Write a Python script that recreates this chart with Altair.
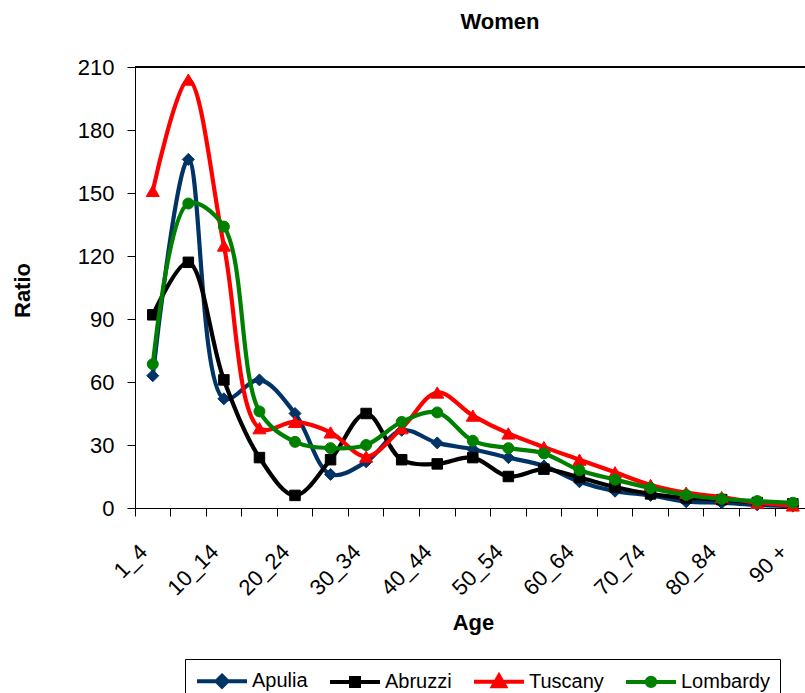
import json
import altair as alt
import pandas as pd

ages = ["1_4", "5_9", "10_14", "15_19", "20_24", "25_29", "30_34", "35_39", "40_44",
        "45_49", "50_54", "55_59", "60_64", "65_69", "70_74", "75_79", "80_84", "85_89", "90 +"]
shown_labels = ["1_4", "10_14", "20_24", "30_34", "40_44", "50_54", "60_64", "70_74", "80_84", "90 +"]

apulia = [63, 166, 52, 61, 45, 16, 22, 37, 31, 28, 24, 20, 12.5, 8, 6, 3, 2.5, 1.5, 1]
abruzzi = [92, 117, 61, 24, 6, 23, 45, 23, 21, 24, 15, 18.5, 14.5, 10, 6.7, 4.8, 4, 2.6, 2]
tuscany = [151, 204, 125, 38, 41, 36, 24.5, 38, 55, 44, 35.5, 29, 23, 17, 11, 7.3, 5.2, 2.5, 1.2]
lombardy = [68.5, 145, 134, 46, 31.5, 28.5, 30, 41, 45.5, 32, 28.5, 26, 18, 13.5, 9.5, 6.2, 4.3, 3.3, 2.5]

series_names = ["Apulia", "Abruzzi", "Tuscany", "Lombardy"]
series_values = [apulia, abruzzi, tuscany, lombardy]
colors = ["#003366", "#000000", "#FF0000", "#008000"]
markers = ["diamond", "square", "triangle-up", "circle"]
marker_sizes = [144, 110, 169, 121]
# legend symbols: a line with the series marker in its middle (unit = half of sqrt(size))
legend_paths = [
    "M-1,0H4M1.5,-0.55L2.05,0L1.5,0.55L0.95,0Z",
    "M-1,0H4M1.1,-0.4H1.9V0.4H1.1Z",
    "M-1,0H4M1.5,-0.6L2.1,0.45H0.9Z",
    "M-1,0H4M1.08,0A0.42,0.42 0 1,0 1.92,0A0.42,0.42 0 1,0 1.08,0Z",
]

rows = []
for name, vals in zip(series_names, series_values):
    for a, v in zip(ages, vals):
        rows.append({"age": a, "ratio": v, "series": name})
df = pd.DataFrame(rows)

FONT = "Liberation Sans"
PLOT_W = 670
BAND_RANGE = 675.6
PLOT_H = 441

label_expr = "indexof(" + json.dumps(shown_labels) + ", datum.value) >= 0 ? datum.value : ''"

x_enc = alt.X(
    "age:N",
    sort=ages,
    scale=alt.Scale(type="band", domain=ages, range=[0, BAND_RANGE], paddingInner=0, paddingOuter=0),
    axis=alt.Axis(
        title="Age",
        titleFontSize=22, titleFontWeight="bold", titleColor="black",
        titleX=338, titleY=114, titleBaseline="middle", titleAlign="center",
        bandPosition=0,
        labelExpr=label_expr,
        labelAngle=315, labelAlign="right", labelBaseline="middle",
        labelFontSize=22, labelColor="black",
        labelPadding=32, labelOffset=-9,
        labelOverlap=False, labelFlush=False,
        tickSize=8, tickColor="black", tickWidth=1,
        domainColor="black", domainWidth=1,
        grid=False,
    ),
)

y_enc = alt.Y(
    "ratio:Q",
    scale=alt.Scale(domain=[0, 210], nice=False, zero=True),
    axis=alt.Axis(
        title="Ratio",
        values=[0, 30, 60, 90, 120, 150, 180, 210],
        titleFontSize=22, titleFontWeight="bold", titleColor="black",
        titleX=-113, titleY=223, titleAngle=270, titleBaseline="middle", titleAlign="center",
        labelFontSize=22, labelColor="black", labelPadding=13,
        tickSize=8, tickColor="black", tickWidth=1,
        domainColor="black", domainWidth=1,
        grid=False,
    ),
)

base = alt.Chart(df)

layers = [
    base.mark_rule(color="black", strokeWidth=1).encode(y=alt.datum(210))
]
for name, col, mk, sz in zip(series_names, colors, markers, marker_sizes):
    sub = base.transform_filter(alt.datum.series == name)
    layers.append(sub.mark_line(color=col, strokeWidth=4.2, interpolate="catmull-rom").encode(x=x_enc, y=y_enc))
    layers.append(sub.mark_point(shape=mk, size=sz, filled=True, color=col, opacity=1,
                                 stroke=col, strokeWidth=1).encode(x=x_enc, y=y_enc))

leg = alt.Legend(
    title=None, orient="none", legendX=50, legendY=592, direction="horizontal",
    columns=4, symbolSize=400, symbolStrokeWidth=4, symbolOpacity=1,
    labelFontSize=20, labelFont=FONT, labelColor="black", labelOffset=33,
    columnPadding=14, padding=10, strokeColor="black", fillColor="white",
)
legend_layer = base.mark_point(opacity=0, filled=True).encode(
    x=x_enc, y=y_enc,
    shape=alt.Shape("series:N", sort=series_names,
                    scale=alt.Scale(domain=series_names, range=legend_paths), legend=leg),
    fill=alt.Fill("series:N", sort=series_names,
                  scale=alt.Scale(domain=series_names, range=colors), legend=leg),
    stroke=alt.Stroke("series:N", sort=series_names,
                      scale=alt.Scale(domain=series_names, range=colors), legend=leg),
)
layers.append(legend_layer)

chart = alt.layer(*layers).properties(
    width=PLOT_W, height=PLOT_H,
    title=alt.TitleParams("Women", fontSize=22, fontWeight="bold", font=FONT, color="black",
                          anchor="middle", dx=30, offset=12, baseline="middle"),
    autosize=alt.AutoSizeParams(type="none"),
    padding={"left": 135, "right": 0, "top": 67, "bottom": 185},
).configure(font=FONT).configure_view(stroke=None).configure_axis(labelFont=FONT, titleFont=FONT)

chart.save("out.html", embed_options={"renderer": "svg", "actions": False})
